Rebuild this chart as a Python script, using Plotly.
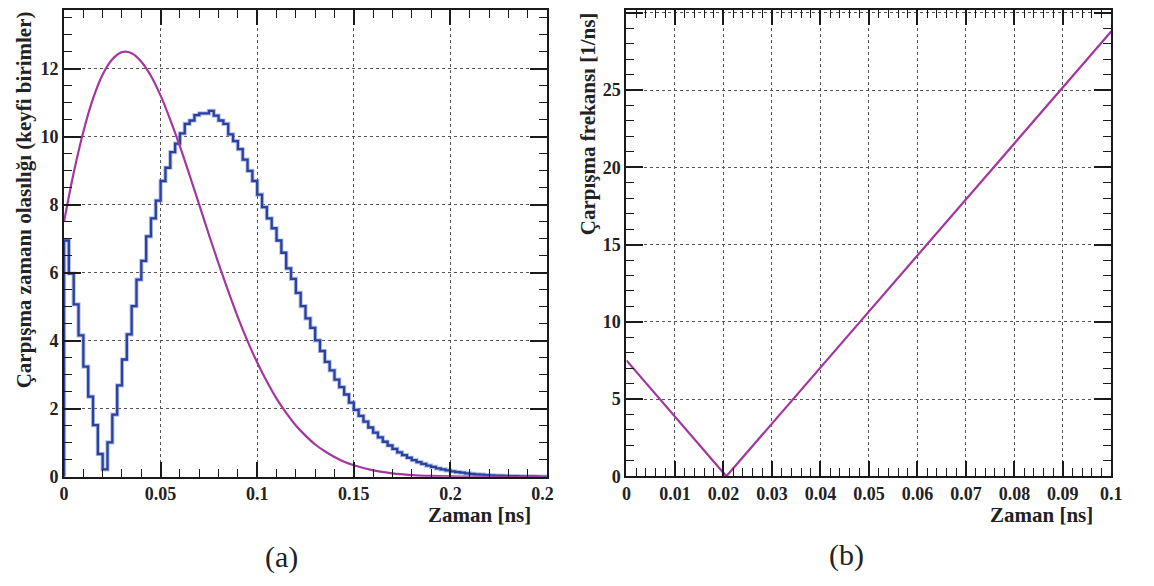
import plotly.graph_objects as go

# ---------------- data ----------------
# (a) histogram: collision-time probability, 100 bins of width 0.0025 ns on [0, 0.25]
BIN_WIDTH = 0.0025
hist_values = [
    6.95, 5.98, 5.07, 4.16, 3.24, 2.36, 1.52, 0.67, 0.22, 1.01,
    1.83, 2.69, 3.45, 4.19, 5.02, 5.80, 6.35, 7.07, 7.60, 8.12,
    8.70, 9.09, 9.55, 9.80, 10.10, 10.38, 10.48, 10.64, 10.69, 10.69,
    10.76, 10.62, 10.48, 10.38, 10.07, 9.87, 9.64, 9.33, 9.00, 8.70,
    8.30, 7.93, 7.60, 7.31, 6.95, 6.59, 6.13, 5.82, 5.41, 5.02,
    4.66, 4.38, 4.01, 3.70, 3.38, 3.13, 2.86, 2.64, 2.42, 2.18,
    1.97, 1.79, 1.62, 1.45, 1.30, 1.16, 1.03, 0.92, 0.82, 0.72,
    0.64, 0.56, 0.49, 0.43, 0.38, 0.33, 0.29, 0.25, 0.22, 0.19,
    0.16, 0.14, 0.12, 0.10, 0.086, 0.073, 0.062, 0.052, 0.044, 0.037,
    0.031, 0.026, 0.022, 0.018, 0.015, 0.012, 0.010, 0.008, 0.007, 0.005,
]

# (a) smooth magenta curve
curve_t = [0, 0.005, 0.01, 0.015, 0.02, 0.025, 0.03, 0.035, 0.04, 0.045,
           0.05, 0.055, 0.06, 0.065, 0.07, 0.075, 0.08, 0.085, 0.09, 0.095,
           0.1, 0.105, 0.11, 0.115, 0.12, 0.125, 0.13, 0.135, 0.14, 0.145,
           0.15, 0.16, 0.17, 0.18, 0.19, 0.2, 0.21, 0.22, 0.23, 0.247]
curve_p = [7.50, 8.94, 10.15, 11.12, 11.83, 12.28, 12.49, 12.46, 12.21, 11.79,
           11.21, 10.50, 9.72, 8.87, 8.00, 7.12, 6.27, 5.46, 4.69, 3.99,
           3.36, 2.80, 2.30, 1.88, 1.51, 1.21, 0.95, 0.75, 0.58, 0.44,
           0.34, 0.19, 0.10, 0.052, 0.026, 0.012, 0.0055, 0.0023, 0.0009, 0.0002]

# (b) collision frequency
freq_t = [0, 0.0206, 0.1]
freq_nu = [7.5, 0.0, 28.8]

# text
y_title_a = "Çarpışma zamanı olasılığı (keyfi birimler)"
y_title_b = "Çarpışma frekansı [1/ns]"
x_title = "Zaman [ns]"

# ---------------- figure ----------------
PAGE_W, PAGE_H = 1154, 586
BODY_MARGIN = 8                     # default browser body margin
W, H = PAGE_W - 2 * BODY_MARGIN, PAGE_H - 2 * BODY_MARGIN
BLUE = "#2a41a0"
MAG = "#a4379e"
SERIF = "Liberation Serif"


def px(x):
    return (x - BODY_MARGIN) / W


def py(y):
    return 1 - (y - BODY_MARGIN) / H


# histogram step line
edges = [i * BIN_WIDTH for i in range(len(hist_values) + 1)]
hx = [0.0] + edges
hy = [0.0] + hist_values + [hist_values[-1]]

fig = go.Figure()
fig.add_trace(go.Scatter(x=hx, y=hy, mode="lines", line_shape="hv",
                         line=dict(color="rgba(120,140,215,0.55)", width=4.2),
                         xaxis="x", yaxis="y", hoverinfo="skip", showlegend=False))
fig.add_trace(go.Scatter(x=hx, y=hy, mode="lines", line_shape="hv",
                         line=dict(color=BLUE, width=2.3),
                         xaxis="x", yaxis="y", showlegend=False))
fig.add_trace(go.Scatter(x=curve_t, y=curve_p, mode="lines", line_shape="spline",
                         line=dict(color=MAG, width=2.2),
                         xaxis="x", yaxis="y", showlegend=False))
fig.add_trace(go.Scatter(x=freq_t, y=freq_nu, mode="lines",
                         line=dict(color=MAG, width=2.2),
                         xaxis="x2", yaxis="y2", showlegend=False))

tickfont = dict(family=SERIF, size=18, color="#222", weight="bold")


def xaxis(dom, rng, dtick, minor_dtick, anchor):
    return dict(domain=dom, range=rng, anchor=anchor, dtick=dtick, tick0=0,
                showline=True, linecolor="#1a1a1a", linewidth=2, mirror="ticks",
                ticks="inside", ticklen=15, tickwidth=1.5, tickcolor="#1a1a1a",
                showgrid=True, gridcolor="#555", gridwidth=1, griddash="dot",
                zeroline=False, tickfont=tickfont,
                minor=dict(dtick=minor_dtick, ticks="inside", ticklen=8,
                           tickwidth=1.2, tickcolor="#1a1a1a", showgrid=False))


def yaxis(dom, rng, dtick, minor_dtick, anchor):
    return dict(domain=dom, range=rng, anchor=anchor, dtick=dtick, tick0=0,
                showline=True, linecolor="#1a1a1a", linewidth=2, mirror="ticks",
                ticks="inside", ticklen=17, tickwidth=1.5, tickcolor="#1a1a1a",
                showgrid=True, gridcolor="#555", gridwidth=1, griddash="dot",
                zeroline=False, tickfont=tickfont,
                minor=dict(dtick=minor_dtick, ticks="inside", ticklen=8,
                           tickwidth=1.2, tickcolor="#1a1a1a", showgrid=False))


fig.update_layout(
    width=W, height=H,
    margin=dict(l=0, r=0, t=0, b=0),
    paper_bgcolor="white", plot_bgcolor="white",
    xaxis=xaxis([px(60), px(552)], [0, 0.25], 0.05, 0.01, "y"),
    yaxis=yaxis([py(485), py(9)], [0, 13.73], 2, 0.5, "x"),
    xaxis2=xaxis([px(633), px(1127)], [0, 0.1], 0.01, 0.002, "y2"),
    yaxis2=yaxis([py(484.5), py(9.5)], [0, 30.15], 5, 1, "x2"),
)

title_font = dict(family=SERIF, size=21, color="#222", weight="bold")
ann = [
    dict(text=x_title, x=px(538), y=py(524), xanchor="right", yanchor="middle", font=title_font),
    dict(text=x_title, x=px(1110), y=py(524), xanchor="right", yanchor="middle", font=title_font),
    dict(text=y_title_a, x=px(19), y=py(8), xanchor="center", yanchor="top", textangle=-90, font=title_font),
    dict(text=y_title_b, x=px(594), y=py(10), xanchor="center", yanchor="top", textangle=-90, font=title_font),
    dict(text="(a)", x=px(282), y=py(567), xanchor="center", yanchor="middle",
         font=dict(family=SERIF, size=30, color="#222")),
    dict(text="(b)", x=px(857), y=py(565), xanchor="center", yanchor="middle",
         font=dict(family=SERIF, size=30, color="#222")),
]
for a in ann:
    a.update(xref="paper", yref="paper", showarrow=False)
fig.update_layout(annotations=ann)

# the "0.25" label is clipped in the original figure
fig.add_shape(type="rect", xref="paper", yref="paper", layer="above",
              x0=px(559), x1=px(585), y0=py(512), y1=py(488),
              fillcolor="white", line=dict(width=0))

fig.write_html("out.html", config={"displayModeBar": False})
